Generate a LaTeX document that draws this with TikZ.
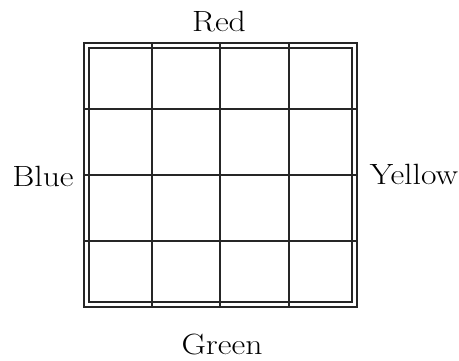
\documentclass[tikz,border=0pt]{standalone}
\begin{document}
\begin{tikzpicture}[x=1pt,y=-1pt,
  gridline/.style={line width=1.4pt,black!85},
  lbl/.style={font=\fontsize{29.3}{34}\selectfont,inner sep=0pt,anchor=base}]
\useasboundingbox (0,0) rectangle (459,361);
% outer and inner border
\draw[gridline] (84,43) rectangle (357,307);
\draw[gridline] (89,48) rectangle (352,302);
% grid lines
\foreach \x in {152,220,289} \draw[gridline] (\x,43) -- (\x,307);
\foreach \y in {109,175,241} \draw[gridline] (84,\y) -- (357,\y);
\node[lbl] (red) at (219,32) {\scalebox{1.15}[1]{Red}};
\node[lbl] (blue) at (43,187) {\scalebox{1.15}[1]{Blue}};
\node[lbl] (yellow) at (414,185) {\scalebox{1.15}[1]{Yellow}};
\node[lbl] (green) at (222,355) {\scalebox{1.15}[1]{Green}};
\end{tikzpicture}
\end{document}
